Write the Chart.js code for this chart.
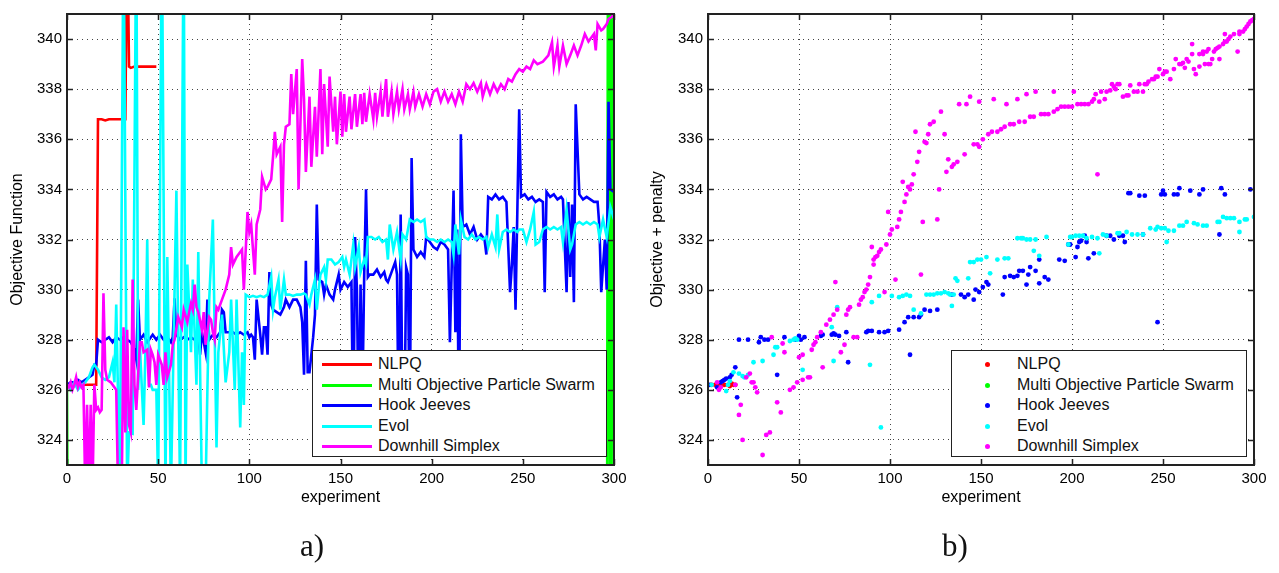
<!DOCTYPE html>
<html>
<head>
<meta charset="utf-8">
<script src="https://cdn.jsdelivr.net/npm/chart.js@4.4.1/dist/chart.umd.min.js"></script>
<style>
  html, body { margin: 0; padding: 0; background: #fff; }
  body { width: 1279px; height: 573px; position: relative; overflow: hidden; font-family: "Liberation Sans", Arial, sans-serif; }
  .panel { position: absolute; top: 0; width: 640px; height: 573px; }
  .legend { position: absolute; top: 350px; height: 107px; background: #fff; border: 1.5px solid #222; box-sizing: border-box; font-size: 16px; color: #111; }
  .legend .row { position: absolute; left: 0; right: 0; height: 20px; }
  .legend .txt { position: absolute; left: 65px; top: 0; line-height: 20px; white-space: nowrap; }
  .legend .line { position: absolute; left: 9px; width: 50px; top: 9px; height: 3px; }
  .legend .dot { position: absolute; left: 33px; top: 8px; width: 5px; height: 5px; border-radius: 50%; }
  .caption { position: absolute; top: 528px; width: 60px; text-align: center; font-family: "Liberation Serif", "DejaVu Serif", serif; font-size: 31px; color: #111; }
</style>
</head>
<body>
<div class="panel" style="left:0"><canvas id="chartA" width="640" height="573"></canvas></div>
<div class="panel" style="left:640px"><canvas id="chartB" width="640" height="573"></canvas></div>
<div class="legend" id="legendA" style="left:312px; width:295px"></div>
<div class="legend" id="legendB" style="left:951px; width:296px"></div>
<div class="caption" style="left:282px">a)</div>
<div class="caption" style="left:925px">b)</div>
<script>
const names = ['NLPQ', 'Multi Objective Particle Swarm', 'Hook Jeeves', 'Evol', 'Downhill Simplex'];
const colors = ['#ff0000', '#00ff00', '#0000ff', '#00ffff', '#ff00ff'];
const xTicks = [0, 50, 100, 150, 200, 250, 300];
const yTicks = [324, 326, 328, 330, 332, 334, 336, 338, 340];

// a) objective function per experiment  [experiment, value]
const nlpqA = [[0,326.2],[2,326.2],[4,326.15],[6,326.2],[8,326.2],[10,326.2],[12,326.2],[14,326.2],[16,326.2],[17,336.8],[19,336.8],[21,336.75],[23,336.8],[25,336.8],[27,336.8],[29,336.8],[31,336.8],[32,336.8],[33,345],[34,338.9],[35,338.85],[37,338.9],[40,338.9],[43,338.9],[46,338.9],[49,338.9]];
const mopsA = [[0,326.0],[1,310],[296,310],[297,360],[298,310],[299,360],[300,310]];
const hookA = [[0,326.2],[2,326.3],[4,326.3],[6,326.4],[8,326.3],[10,326.4],[12,326.5],[14,326.6],[15,327.0],[16,327.0],[17,328.0],[19,327.9],[21,328.0],[23,328.1],[25,327.9],[27,328.1],[29,328.0],[31,328.1],[33,328.0],[35,327.9],[37,327.6],[38,327.2],[39,329.6],[40,328.0],[42,328.2],[44,327.9],[46,328.1],[47,328.2],[49,328.0],[51,328.2],[53,328.0],[55,328.1],[57,327.9],[58,328.1],[59,329.65],[60,328.2],[62,328.0],[64,328.1],[66,328.0],[68,328.1],[70,328.0],[72,328.2],[73,327.4],[74,328.3],[76,327.5],[77,329.6],[78,328.0],[80,328.2],[82,328.1],[84,328.3],[85,329.2],[86,329.1],[87,328.3],[89,328.3],[91,328.3],[93,328.2],[95,328.3],[97,328.2],[99,328.3],[100,328.1],[101,328.2],[102,328.1],[103,327.2],[104,329.6],[106,328.2],[107,327.4],[108,328.5],[109,328.5],[110,327.4],[111,330.7],[112,329.4],[113,329.2],[115,329.1],[117,329.0],[119,329.3],[120,329.6],[122,329.3],[124,329.6],[126,329.6],[128,329.3],[129,328.7],[130,326.6],[131,331.15],[132,326.7],[133,326.7],[135,328.1],[136,329.0],[137,333.4],[138,330.4],[140,330.3],[141,329.8],[142,330.2],[144,329.8],[146,329.6],[147,330.0],[149,330.6],[150,330.0],[152,330.3],[154,330.1],[155,330.2],[156,330.3],[157,323.8],[158,332.1],[159,330.0],[160,324.0],[161,330.2],[162,325.5],[163,330.6],[164,334.0],[165,330.5],[166,330.6],[168,330.6],[170,330.8],[172,330.5],[174,330.7],[175,330.4],[176,330.3],[178,330.7],[180,331.1],[181,330.6],[182,323.5],[183,333.0],[184,325.0],[185,324.0],[186,330.9],[187,330.6],[188,324.3],[189,335.25],[190,331.6],[192,331.3],[194,331.5],[196,331.3],[197,332.1],[199,331.9],[201,331.7],[203,331.6],[205,331.9],[207,331.8],[209,331.6],[210,327.9],[212,333.95],[213,328.3],[214,332.4],[215,323.5],[216,336.2],[217,332.5],[219,332.6],[221,332.2],[223,332.5],[225,332.0],[227,332.2],[229,332.0],[230,331.4],[231,333.7],[233,333.6],[235,333.8],[237,333.6],[239,333.7],[241,333.5],[243,329.9],[244,331.0],[245,332.5],[246,329.2],[248,337.2],[249,333.7],[251,333.8],[253,333.6],[255,333.7],[257,333.5],[259,333.6],[261,333.5],[262,329.9],[263,333.9],[265,333.7],[267,333.8],[269,333.6],[271,333.7],[272,333.6],[274,329.9],[275,333.5],[276,330.5],[277,333.4],[278,329.5],[279,337.4],[281,333.8],[283,333.6],[285,333.7],[287,333.6],[289,333.5],[291,333.5],[292,332.5],[293,329.9],[295,332.0],[296,330.0],[297,337.5],[298,334.0],[300,333.9]];
const evolA = [[0,326.2],[2,326.0],[4,326.3],[6,326.0],[8,326.2],[10,326.3],[12,326.5],[14,326.9],[15,327.0],[17,326.8],[19,326.5],[21,326.4],[23,326.5],[25,327.1],[26,326.3],[27,329.4],[29,322],[31,345],[33,322],[34,324.3],[36,324.25],[38,345],[39,326],[40,327.7],[42,324.6],[43,327.5],[44,332.0],[45,326.2],[46,326.2],[47,326.0],[49,326.0],[50,322],[52,345],[54,322],[55,331.3],[57,322],[60,333.95],[62,322],[64,345],[65,322],[66,331.0],[68,327.5],[69,330.4],[71,326.2],[72,331.5],[74,322],[76,322],[77,326.0],[78,329.6],[80,332.8],[82,323.7],[83,327.5],[85,329.0],[87,326.3],[89,327.5],[90,329.6],[92,326.0],[93,329.6],[95,324.5],[96,327.5],[97,325.4],[98,329.8],[100,329.7],[102,329.75],[104,329.7],[106,329.75],[108,329.7],[110,329.8],[112,330.5],[113,329.2],[114,329.7],[116,330.4],[117,329.2],[119,330.4],[120,329.8],[122,329.8],[124,329.75],[126,329.8],[128,329.8],[130,329.85],[131,329.8],[133,329.4],[134,329.8],[136,330.4],[137,329.2],[138,330.0],[139,330.6],[141,330.9],[142,330.4],[143,331.2],[145,331.2],[147,331.0],[149,331.1],[151,331.3],[152,330.9],[153,331.2],[155,330.6],[157,331.8],[158,330.9],[160,331.7],[161,330.7],[163,331.2],[164,331.0],[165,332.1],[167,332.1],[169,332.0],[171,332.1],[173,331.9],[175,332.0],[176,331.2],[177,332.6],[179,331.6],[181,332.3],[183,331.2],[184,332.2],[186,332.0],[188,332.8],[190,332.7],[192,332.8],[194,332.7],[196,332.8],[197,332.1],[199,332.0],[201,332.0],[203,331.9],[205,332.0],[207,331.9],[209,332.0],[211,331.9],[212,331.4],[213,332.6],[215,331.4],[216,332.8],[218,332.1],[220,332.0],[222,332.2],[224,332.0],[226,332.1],[228,332.0],[230,332.1],[231,331.7],[233,332.2],[235,331.7],[236,333.0],[237,331.6],[239,332.3],[241,332.4],[243,332.3],[245,332.4],[247,332.3],[248,332.4],[250,332.4],[252,331.9],[254,332.4],[256,333.1],[257,331.8],[259,331.9],[261,332.4],[263,332.5],[265,332.4],[267,332.5],[269,332.4],[271,332.5],[272,331.9],[274,333.2],[276,331.6],[277,331.8],[279,332.6],[281,332.7],[283,332.6],[285,332.7],[287,332.6],[289,332.7],[291,332.6],[292,332.1],[294,332.8],[296,332.1],[298,333.3],[300,332.8]];
const simplexA = [[0,326.2],[1,326.1],[2,326.3],[3,326.0],[4,326.2],[5,326.5],[6,326.1],[7,326.3],[8,326.1],[9,326.2],[10,322],[11,325.4],[12,322],[13,325.4],[14,322],[15,326.2],[16,325.2],[17,325.3],[18,325.1],[19,325.2],[20,329.85],[21,326.8],[22,326.4],[24,326.3],[26,326.1],[27,326.0],[28,322],[30,322],[31,328.5],[32,324.3],[33,328.4],[34,324.6],[35,324.3],[36,330.4],[37,326.2],[38,325.2],[40,327.9],[41,327.9],[42,327.5],[44,327.6],[45,326.1],[46,327.6],[47,327.4],[48,327.1],[49,326.2],[50,327.4],[52,327.0],[53,326.2],[54,327.5],[55,326.5],[57,327.0],[58,327.8],[59,328.0],[61,328.9],[63,328.5],[64,329.2],[66,328.7],[67,329.1],[68,329.45],[69,329.2],[70,330.2],[71,329.3],[72,329.1],[74,328.4],[75,329.1],[76,327.8],[78,328.9],[79,328.8],[80,328.3],[81,328.0],[82,329.3],[83,329.2],[85,329.6],[87,330.0],[89,330.6],[90,331.7],[91,331.0],[93,331.3],[95,331.5],[96,331.6],[97,330.0],[99,333.1],[100,332.3],[101,332.6],[103,330.6],[104,332.6],[106,333.2],[107,334.5],[109,334.0],[110,334.1],[112,334.4],[113,335.3],[114,336.3],[115,335.4],[117,335.7],[118,332.7],[119,335.8],[120,336.5],[122,336.6],[123,338.6],[124,337.0],[126,338.8],[127,334.0],[129,339.2],[130,337.6],[131,334.7],[133,337.7],[134,334.9],[136,337.3],[137,335.3],[139,338.8],[140,335.4],[141,338.2],[143,335.7],[144,338.5],[146,336.3],[147,337.7],[148,335.8],[150,337.9],[151,336.1],[152,337.8],[153,336.3],[155,337.7],[156,336.4],[158,337.8],[159,336.5],[161,337.8],[162,336.6],[163,337.85],[164,336.7],[166,337.8],[168,336.8],[169,337.85],[170,336.9],[172,337.9],[173,336.9],[175,338.4],[176,336.9],[178,337.9],[179,337.0],[181,337.9],[182,337.2],[184,338.0],[185,337.2],[187,337.8],[188,337.2],[190,337.9],[191,337.3],[193,337.8],[195,337.3],[197,337.8],[199,337.4],[201,337.9],[203,338.0],[205,337.5],[207,337.9],[209,337.5],[211,337.8],[213,337.4],[215,337.9],[217,337.5],[219,338.2],[221,338.0],[223,338.24],[225,337.9],[227,338.24],[228,337.7],[230,338.2],[232,337.8],[234,338.2],[236,337.9],[238,338.2],[240,338.0],[242,338.4],[244,338.3],[246,338.6],[248,338.8],[250,338.7],[252,338.9],[254,338.8],[256,339.15],[258,339.0],[261,339.1],[264,339.35],[266,339.87],[267,338.9],[269,339.74],[270,338.9],[272,339.74],[274,339.0],[276,339.35],[278,339.74],[280,339.35],[282,339.74],[284,340.2],[286,339.9],[289,340.2],[290,339.55],[291,340.6],[293,340.35],[294,340.4],[296,340.6],[297,340.8],[299,340.9],[300,341.0]];

// b) objective + penalty per experiment  [experiment, value]
const nlpqB = [[2,326.2],[4,326.2],[6,326.25],[7,326.15],[9,326.2],[11,326.2],[12,326.15],[13,326.25],[14,326.2],[15,326.2]];
const mopsB = [];
const hookB = [[1,326.2],[5,326.1],[7,326.3],[8,326.35],[9,326.4],[10,326.45],[12,326.5],[13,326.6],[15,326.9],[16,325.7],[17,328.0],[22,328.0],[28,327.9],[29,328.1],[31,328.0],[33,328.0],[38,326.6],[42,328.1],[48,328.0],[50,328.15],[51,328.0],[53,328.1],[62,328.15],[63,328.2],[68,328.2],[69,328.25],[70,328.2],[72,328.15],[76,328.3],[77,327.1],[87,328.3],[88,328.35],[90,328.35],[94,328.3],[97,328.3],[99,328.35],[105,328.4],[108,328.7],[110,328.9],[111,327.4],[113,328.9],[116,328.9],[117,329.0],[119,329.2],[122,329.15],[126,329.2],[134,329.8],[139,329.8],[141,329.7],[143,329.8],[146,329.6],[147,330.0],[149,329.9],[151,330.1],[153,330.3],[154,330.2],[162,329.8],[163,330.5],[166,330.55],[168,330.5],[170,330.55],[171,330.75],[173,330.75],[175,330.2],[176,330.6],[177,330.9],[180,330.75],[182,330.25],[182,331.2],[185,330.5],[187,330.4],[193,331.2],[196,331.15],[198,331.8],[199,331.8],[202,331.3],[203,331.7],[204,331.9],[205,331.95],[207,332.15],[208,331.9],[209,331.25],[212,331.45],[219,332.15],[221,332.15],[223,332.0],[226,332.15],[228,332.15],[229,331.9],[231,333.85],[232,333.85],[237,333.75],[239,332.2],[240,333.75],[247,328.7],[249,333.8],[250,333.95],[251,333.8],[256,333.8],[258,333.8],[259,334.05],[265,333.95],[270,333.8],[272,334.0],[281,332.2],[282,334.05],[284,333.8],[298,334.0]];
const evolB = [[2,326.2],[10,325.95],[11,326.2],[12,326.35],[14,326.7],[17,326.65],[19,326.55],[20,326.5],[22,326.6],[25,327.1],[30,327.15],[36,327.4],[37,327.7],[38,327.7],[45,327.95],[47,328.0],[48,328.05],[49,328.0],[52,326.8],[68,328.5],[69,327.15],[71,329.3],[89,327.0],[90,329.5],[94,329.75],[95,324.5],[101,329.75],[105,329.7],[107,329.75],[109,329.8],[111,329.75],[113,329.2],[117,329.05],[120,329.8],[122,329.8],[124,329.8],[126,329.85],[128,329.85],[130,329.9],[132,329.85],[133,329.8],[134,329.35],[135,329.8],[136,330.45],[137,330.35],[143,330.45],[144,331.1],[146,331.1],[148,331.2],[150,331.2],[153,331.3],[155,330.65],[159,331.2],[163,331.25],[165,331.25],[170,332.05],[172,332.05],[173,332.05],[175,332.0],[177,332.0],[179,331.55],[180,332.0],[182,331.35],[186,332.1],[198,331.8],[199,332.1],[200,332.1],[202,332.15],[204,332.15],[206,332.15],[208,332.05],[211,332.1],[214,332.05],[215,331.45],[217,332.2],[219,332.15],[225,332.25],[226,332.25],[230,332.3],[233,332.2],[236,332.2],[239,332.2],[243,332.45],[246,332.4],[247,332.5],[249,332.45],[251,332.45],[252,331.9],[253,332.35],[256,332.35],[259,332.55],[261,332.55],[263,332.7],[267,332.65],[269,332.6],[272,332.55],[274,332.55],[280,332.7],[281,332.7],[283,332.9],[285,332.85],[287,332.85],[289,332.85],[292,332.7],[292,332.3],[295,332.8],[296,332.8],[300,332.9]];
const simplexB = [[5,326.3],[6,326.0],[7,326.1],[15,326.2],[17,325.0],[18,325.4],[19,324.0],[21,326.5],[23,326.65],[24,326.3],[25,326.3],[26,326.1],[27,325.9],[30,323.4],[32,324.2],[34,324.3],[35,328.1],[38,325.5],[40,325.1],[41,327.85],[42,327.5],[45,326.0],[47,326.1],[49,326.3],[50,327.3],[52,326.4],[52,327.4],[55,326.5],[56,326.5],[57,327.6],[58,327.8],[59,327.9],[60,328.1],[62,328.3],[63,326.9],[65,328.6],[67,328.8],[69,329.0],[70,330.3],[71,329.2],[73,327.5],[75,327.8],[76,329.0],[77,329.2],[78,329.3],[80,328.1],[82,328.1],[83,329.4],[84,329.6],[85,329.7],[86,329.9],[87,330.0],[88,330.2],[89,330.5],[90,331.7],[91,331.0],[91,331.2],[92,331.3],[93,331.35],[94,331.5],[95,331.6],[97,329.9],[98,331.8],[99,333.1],[100,332.2],[101,332.4],[103,330.4],[104,332.5],[105,332.8],[106,333.1],[107,334.3],[108,333.5],[109,333.8],[110,334.1],[111,334.0],[112,334.2],[113,334.6],[114,336.3],[115,335.1],[116,335.5],[117,330.6],[118,332.7],[119,335.9],[120,335.85],[121,336.2],[122,336.6],[124,336.7],[126,332.8],[127,334.0],[128,337.1],[130,336.2],[131,334.7],[132,335.2],[134,334.9],[135,335.0],[137,335.1],[138,337.4],[141,335.4],[142,337.4],[144,337.7],[146,335.8],[148,335.8],[149,335.7],[149,337.5],[151,336.0],[154,336.2],[156,336.3],[157,337.6],[159,336.3],[161,336.4],[163,336.5],[164,337.4],[166,336.6],[168,336.6],[170,337.6],[171,336.7],[174,336.7],[175,337.8],[177,336.9],[179,336.9],[180,337.9],[183,337.0],[185,337.0],[187,337.0],[190,337.9],[190,337.1],[192,337.2],[194,337.3],[196,337.3],[198,337.3],[200,337.3],[201,337.9],[203,337.4],[205,337.4],[207,337.4],[209,337.4],[211,337.5],[212,337.6],[213,337.8],[214,334.6],[215,337.5],[216,337.9],[218,337.6],[219,337.9],[221,337.95],[222,338.2],[223,338.1],[224,338.0],[225,338.2],[226,338.2],[228,337.7],[230,337.75],[231,337.75],[232,338.15],[234,337.9],[236,337.9],[237,338.2],[239,337.9],[240,338.2],[241,338.2],[242,338.3],[244,338.4],[245,338.4],[246,338.5],[247,338.5],[248,338.8],[250,338.6],[251,338.7],[252,338.7],[254,338.4],[256,338.8],[257,339.2],[259,339.0],[260,339.0],[261,339.05],[262,338.85],[263,339.2],[264,339.1],[266,339.4],[266,339.8],[267,338.8],[268,338.6],[270,338.9],[270,339.4],[272,339.5],[272,339.4],[273,339.0],[274,339.5],[275,339.6],[275,339.0],[276,339.0],[277,339.2],[278,339.5],[279,339.6],[280,339.65],[281,339.7],[281,339.2],[283,339.8],[284,339.9],[284,340.2],[285,339.9],[286,340.0],[287,340.1],[289,340.2],[291,339.5],[292,340.2],[292,340.3],[294,340.3],[295,340.4],[296,340.5],[297,340.6],[298,340.7],[299,340.75],[300,340.8]];

Chart.defaults.font.family = '"Liberation Sans", Arial, Helvetica, sans-serif';
Chart.defaults.color = '#000';

// box round the axes plus inward tick marks, matlab style
const framePlugin = {
    id: 'frame',
    afterDraw(chart) {
        const { ctx, chartArea: a, scales: { x, y } } = chart;
        ctx.save();
        ctx.strokeStyle = '#222';
        ctx.lineWidth = 1.5;
        ctx.beginPath();
        x.ticks.forEach(t => {
            const px = Math.round(x.getPixelForValue(t.value)) + 0.5;
            ctx.moveTo(px, a.bottom); ctx.lineTo(px, a.bottom - 6);
            ctx.moveTo(px, a.top); ctx.lineTo(px, a.top + 6);
        });
        y.ticks.forEach(t => {
            const py = Math.round(y.getPixelForValue(t.value)) + 0.5;
            ctx.moveTo(a.left, py); ctx.lineTo(a.left + 6, py);
            ctx.moveTo(a.right, py); ctx.lineTo(a.right - 6, py);
        });
        ctx.stroke();
        ctx.lineWidth = 2;
        ctx.strokeRect(a.left, a.top, a.right - a.left, a.bottom - a.top);
        ctx.restore();
    }
};

function makeChart(id, yTitle, series, scatter, yWidth) {
    const datasets = series.map((s, i) => ({
        label: names[i],
        data: s.map(p => ({ x: p[0], y: p[1] })),
        borderColor: colors[i],
        backgroundColor: colors[i],
        borderWidth: scatter ? 0 : 2.6,
        showLine: !scatter,
        pointRadius: scatter ? 2.4 : 0,
        pointHoverRadius: 0,
        tension: 0,
        order: series.length - i
    }));
    return new Chart(document.getElementById(id), {
        type: 'scatter',
        data: { datasets: datasets },
        plugins: [framePlugin],
        options: {
            responsive: false,
            animation: false,
            events: [],
            layout: { padding: { top: 5, right: 26, left: 0, bottom: 0 } },
            plugins: { legend: { display: false }, tooltip: { enabled: false } },
            scales: {
                x: {
                    type: 'linear', min: 0, max: 300,
                    afterBuildTicks: s => { s.ticks = xTicks.map(v => ({ value: v })); },
                    afterFit: s => { s.height = 108; },
                    ticks: { font: { size: 15 }, padding: 5, maxRotation: 0, autoSkip: false },
                    grid: { color: '#444', drawTicks: false },
                    border: { display: false, dash: [1, 4] },
                    title: { display: true, text: 'experiment', font: { size: 16 }, padding: { top: 0, bottom: 66 } }
                },
                y: {
                    type: 'linear', min: 323, max: 341,
                    afterBuildTicks: s => { s.ticks = yTicks.map(v => ({ value: v })); },
                    afterFit: s => { s.width = yWidth; },
                    ticks: { font: { size: 15 }, padding: 5 },
                    grid: { color: '#444', drawTicks: false },
                    border: { display: false, dash: [1, 4] },
                    title: { display: true, text: yTitle, font: { size: 16 }, padding: { top: 8, bottom: 0 } }
                }
            }
        }
    });
}

makeChart('chartA', 'Objective Function', [nlpqA, mopsA, hookA, evolA, simplexA], false, 67);
makeChart('chartB', 'Objective + penalty', [nlpqB, mopsB, hookB, evolB, simplexB], true, 68);

// legends drawn as html boxes over the plot area
function buildLegend(id, scatter) {
    const box = document.getElementById(id);
    names.forEach((n, i) => {
        const row = document.createElement('div');
        row.className = 'row';
        row.style.top = (3 + i * 20.5) + 'px';
        const mark = document.createElement('div');
        mark.className = scatter ? 'dot' : 'line';
        mark.style.background = colors[i];
        const txt = document.createElement('div');
        txt.className = 'txt';
        txt.textContent = n;
        row.appendChild(mark);
        row.appendChild(txt);
        box.appendChild(row);
    });
}
buildLegend('legendA', false);
buildLegend('legendB', true);
</script>
</body>
</html>
